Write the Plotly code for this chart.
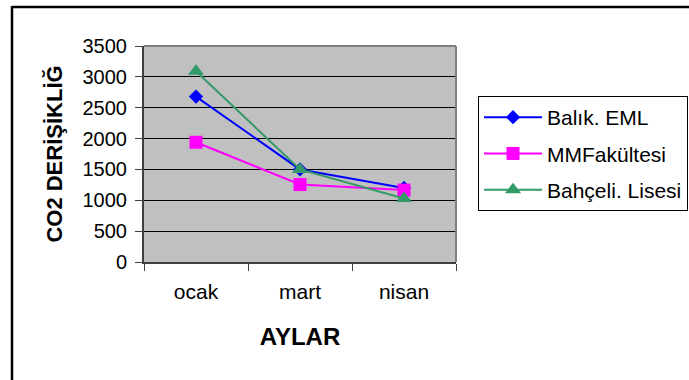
import plotly.graph_objects as go

months = ["ocak", "mart", "nisan"]
balik_eml = [2680, 1500, 1200]
mm_fakultesi = [1940, 1255, 1165]
bahceli_lisesi = [3090, 1500, 1030]

series = [
    ("Balık. EML", balik_eml, "#0000FF", "diamond", 11),
    ("MMFakültesi", mm_fakultesi, "#FF00FF", "square", 13),
    ("Bahçeli. Lisesi", bahceli_lisesi, "#339966", "triangle-up", 14),
]

W, H = 689, 380
L, R, T, B = 144, 233, 46, 118
pw, ph = W - L - R, H - T - B

def px(x):
    return (x - L) / pw

def py(y):
    return (H - B - y) / ph

fig = go.Figure()
for i, (name, vals, col, sym, sz) in enumerate(series):
    fig.add_trace(go.Scatter(
        x=months, y=vals, name=name, mode="lines+markers",
        legendgroup=f"g{i}",
        line=dict(color=col, width=2),
        marker=dict(symbol=sym, size=sz, color=col, line=dict(width=0)),
    ))

font = "Liberation Sans, Arial, sans-serif"
fig.update_layout(
    width=W, height=H,
    margin=dict(l=L, r=R, t=T, b=B, pad=0, autoexpand=False),
    paper_bgcolor="white",
    plot_bgcolor="#C0C0C0",
    font=dict(family=font, size=21, color="black"),
    showlegend=True,
    legend=dict(
        x=px(478), y=py(96), xanchor="left", yanchor="top",
        bgcolor="white", bordercolor="black", borderwidth=1,
        font=dict(size=21, family=font), tracegroupgap=6,
        itemwidth=58,
    ),
    xaxis=dict(
        type="category", tickson="boundaries", showgrid=False,
        ticks="outside", ticklen=7, tickcolor="#404040", tickwidth=1,
        showline=True, linecolor="#404040", linewidth=2,
        ticklabelstandoff=10, tickfont=dict(size=21),
        title=dict(text="<b>AYLAR</b>", standoff=26, font=dict(size=24)),
        range=[-0.5, 2.5], fixedrange=True,
    ),
    yaxis=dict(
        range=[0, 3500], dtick=500, tick0=0,
        showgrid=True, gridcolor="black", gridwidth=1,
        ticks="outside", ticklen=7, tickcolor="#404040", tickwidth=1,
        showline=True, linecolor="#404040", linewidth=2,
        zeroline=False, ticklabelstandoff=4, tickfont=dict(size=20),
        title=dict(text="<b>CO2 DERİŞİKLİĞ</b>", standoff=14, font=dict(size=22)),
    ),
    shapes=[
        dict(type="line", xref="paper", yref="paper",
             x0=px(12), x1=px(700), y0=py(7), y1=py(7),
             line=dict(color="black", width=2.5), layer="above"),
        dict(type="line", xref="paper", yref="paper",
             x0=px(12), x1=px(12), y0=py(400), y1=py(6),
             line=dict(color="black", width=2.5), layer="above"),
        dict(type="line", xref="paper", yref="paper",
             x0=0, x1=1, y0=1, y1=1, line=dict(color="#808080", width=2)),
        dict(type="line", xref="paper", yref="paper",
             x0=1, x1=1, y0=0, y1=1, line=dict(color="#808080", width=2)),
    ],
)

fig.write_html(
    "out.html",
    config={"displayModeBar": False},
    post_script="document.body.style.margin='0';document.body.style.overflow='hidden';",
)
